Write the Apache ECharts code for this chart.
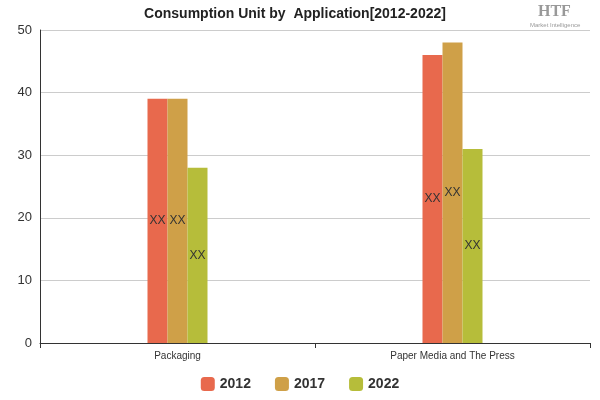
<!DOCTYPE html>
<html><head><meta charset="utf-8">
<script src="https://cdn.jsdelivr.net/npm/echarts@6/dist/echarts.min.js"></script>
<style>html,body{margin:0;padding:0;background:#fff}#c{width:600px;height:400px}</style>
</head><body><div id="c"></div>
<script>
const categories = ["Packaging", "Paper Media and The Press"];
const seriesNames = ["2012", "2017", "2022"];
const v2012 = [39, 46];
const v2017 = [39, 48];
const v2022 = [28, 31];
const colors = ["#E8694D", "#CFA048", "#B6BD3A"];
const chart = echarts.init(document.getElementById('c'));
const vals = [v2012, v2017, v2022];
chart.setOption({
  animation: false,
  title: { text: "Consumption Unit by  Application[2012-2022]", left: 290, textAlign: 'center', top: 2,
    textStyle: { fontSize: 14, fontWeight: 'bold', color: '#222', fontFamily: 'Liberation Sans' } },
  graphic: [{ type: 'text', left: 538, top: 4, style: { text: 'HTF', fill: '#999', font: 'bold 16px Liberation Serif' } },
            { type: 'text', left: 530, top: 22, style: { text: 'Market Intelligence', fill: '#999', font: '6px Liberation Sans' } }],
  legend: { bottom: 4, itemWidth: 14, itemHeight: 14, itemGap: 24, data: seriesNames,
    textStyle: { fontSize: 14, fontWeight: 'bold', color: '#333' } },
  grid: { left: 40, right: 10, top: 30, bottom: 57 },
  xAxis: { type: 'category', data: categories,
    axisLine: { lineStyle: { color: '#333' } }, axisTick: { show: true, lineStyle: { color: '#333' } },
    axisLabel: { fontSize: 10, color: '#333' } },
  yAxis: { type: 'value', min: 0, max: 50, interval: 10,
    axisLine: { show: true, lineStyle: { color: '#333' } },
    axisLabel: { fontSize: 13, color: '#333' },
    splitLine: { lineStyle: { color: '#ccc' } } },
  series: seriesNames.map((n, i) => ({
    name: n, type: 'bar', data: vals[i], barWidth: 20, barGap: '0%',
    itemStyle: { color: colors[i] },
    label: { show: true, position: 'inside', formatter: 'XX', color: '#333', fontSize: 12 }
  }))
});
</script></body></html>
